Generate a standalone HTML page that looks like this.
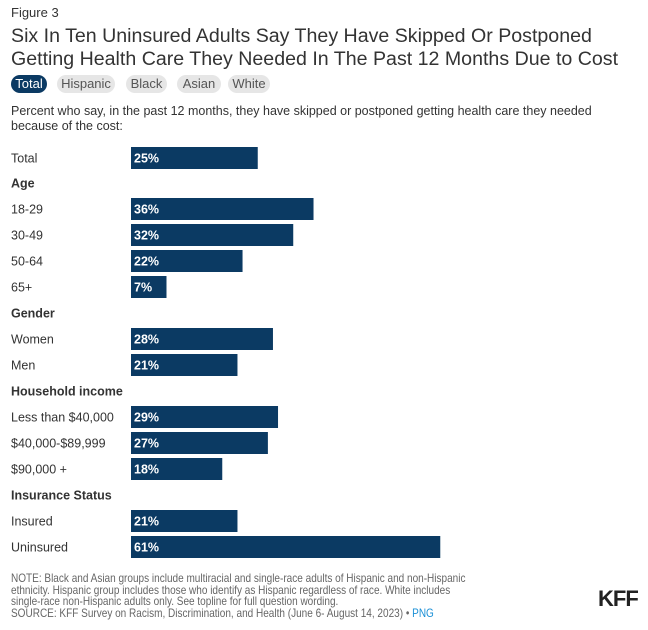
<!DOCTYPE html>
<html><head><meta charset="utf-8"><style>
body{margin:0;width:648px;height:630px;background:#fff;font-family:"Liberation Sans",Arial,sans-serif;position:relative;overflow:hidden}
.a{position:absolute;white-space:nowrap}
.tab{position:absolute;top:75px;height:18px;line-height:18px;border-radius:9px;background:#e6e6e6;color:#555;font-size:13px;text-align:center}
.note{font-size:12px;color:#666;line-height:11.5px;transform:scaleX(0.835);transform-origin:0 0}
</style></head><body>
<div class="a" style="left:11px;top:5px;font-size:13px;color:#333">Figure 3</div>
<div class="a" style="left:11px;top:25px;font-size:19.6px;color:#333;line-height:23px">Six In Ten Uninsured Adults Say They Have Skipped Or Postponed<br>Getting Health Care They Needed In The Past 12 Months Due to Cost</div>
<div class="tab" style="left:11px;width:36px;background:#0b3a63;color:#fff">Total</div>
<div class="tab" style="left:57px;width:58px">Hispanic</div>
<div class="tab" style="left:126px;width:41px">Black</div>
<div class="tab" style="left:177px;width:44px">Asian</div>
<div class="tab" style="left:228px;width:42px">White</div>
<div class="a" style="left:11px;top:104px;font-size:12.5px;color:#333;line-height:15px">Percent who say, in the past 12 months, they have skipped or postponed getting health care they needed<br>because of the cost:</div>
<svg id="chart" style="position:absolute;left:0;top:0" width="648" height="570"></svg>
<div class="a note" style="left:11px;top:573px">NOTE: Black and Asian groups include multiracial and single-race adults of Hispanic and non-Hispanic<br>ethnicity. Hispanic group includes those who identify as Hispanic regardless of race. White includes<br>single-race non-Hispanic adults only. See topline for full question wording.<br>SOURCE: KFF Survey on Racism, Discrimination, and Health (June 6- August 14, 2023) • <span style="color:#1a8fd6">PNG</span></div>
<div class="a" style="left:598px;top:586px;font-size:22px;font-weight:bold;color:#222;letter-spacing:-1px">KFF</div>
<script>
const labels=["Total","Age","18-29","30-49","50-64","65+","Gender","Women","Men","Household income","Less than $40,000","$40,000-$89,999","$90,000 +","Insurance Status","Insured","Uninsured"];
const values=[25,null,36,32,22,7,null,28,21,null,29,27,18,null,21,61];
const svg=document.getElementById('chart');
const NS='http://www.w3.org/2000/svg';
const x0=131,scale=5.07,y0=158,step=26;
function xs(v){return v*scale;}
labels.forEach((l,i)=>{
  const cy=y0+i*step-(i>0?1:0);
  const t=document.createElementNS(NS,'text');
  t.setAttribute('x',11);t.setAttribute('y',cy+4.5);
  t.setAttribute('font-size','12.5');t.setAttribute('fill','#333');
  t.setAttribute('font-family','Liberation Sans, Arial, sans-serif');
  const v=values[i];
  if(v===null){t.setAttribute('font-weight','bold');}
  t.textContent=l;
  
  
  svg.appendChild(t);
  if(v!==null){
    const r=document.createElementNS(NS,'rect');
    r.setAttribute('x',x0);r.setAttribute('y',cy-11);
    r.setAttribute('width',xs(v));r.setAttribute('height',22);
    r.setAttribute('fill','#0b3a63');
    
    
    svg.appendChild(r);
    const vt=document.createElementNS(NS,'text');
    vt.setAttribute('x',x0+3);vt.setAttribute('y',cy+4.5);
    vt.setAttribute('font-size','12.5');vt.setAttribute('font-weight','bold');vt.setAttribute('fill','#fff');
    vt.setAttribute('font-family','Liberation Sans, Arial, sans-serif');
    vt.textContent=v+'%';
    
    
    svg.appendChild(vt);
  }
});
</script>
</body></html>
